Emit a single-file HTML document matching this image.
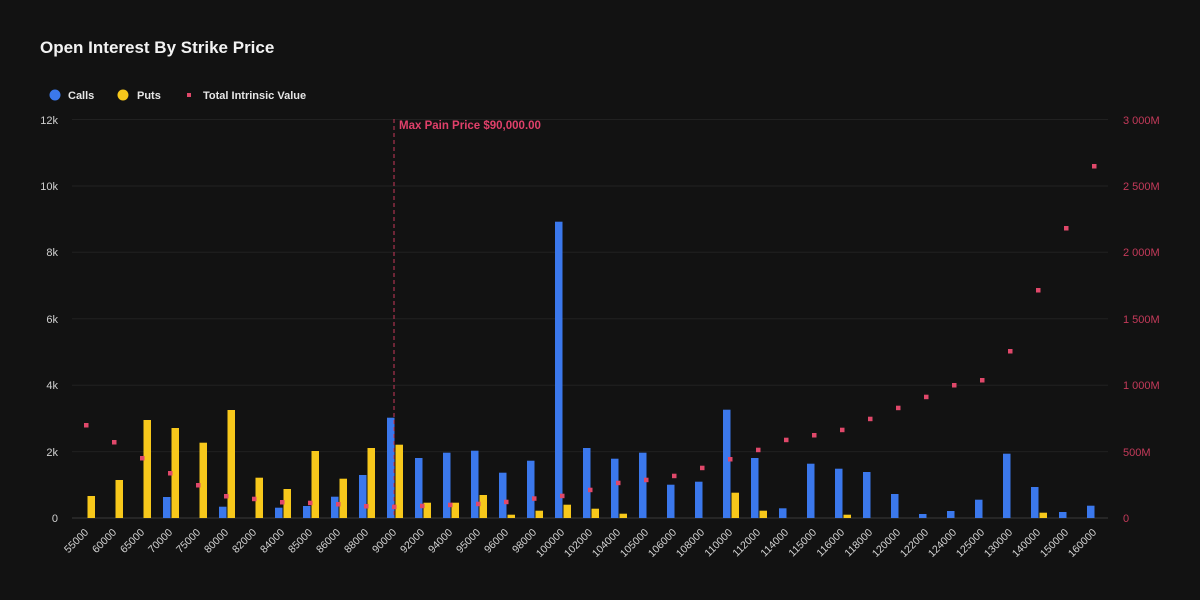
<!DOCTYPE html>
<html>
<head>
<meta charset="utf-8">
<style>
html,body{margin:0;padding:0;background:#121212;}
svg{display:block;}
text{font-family:"Liberation Sans",Arial,sans-serif;}
g.cb rect{width:7.5px;}
g.pb rect{width:7.5px;}
</style>
</head>
<body>
<svg width="1200" height="600" viewBox="0 0 1200 600" xmlns="http://www.w3.org/2000/svg">
<rect width="1200" height="600" fill="#121212"/>
<text x="40" y="53" font-size="17" font-weight="bold" fill="#f2f2f2">Open Interest By Strike Price</text>
<circle cx="55" cy="95" r="5.5" fill="#3b78ec"/>
<text x="68" y="99" font-size="11" font-weight="bold" fill="#e6e6e6">Calls</text>
<circle cx="123" cy="95" r="5.5" fill="#f7c81b"/>
<text x="137" y="99" font-size="11" font-weight="bold" fill="#e6e6e6">Puts</text>
<rect x="187" y="93" width="4" height="4" fill="#e0486a"/>
<text x="203" y="99" font-size="11" font-weight="bold" fill="#e6e6e6">Total Intrinsic Value</text>
<g stroke="#212121" stroke-width="1">
<line x1="72" y1="119.5" x2="1108" y2="119.5"/>
<line x1="72" y1="186" x2="1108" y2="186"/>
<line x1="72" y1="252.3" x2="1108" y2="252.3"/>
<line x1="72" y1="318.7" x2="1108" y2="318.7"/>
<line x1="72" y1="385.2" x2="1108" y2="385.2"/>
<line x1="72" y1="451.6" x2="1108" y2="451.6"/>
</g>
<line x1="72" y1="518" x2="1108" y2="518" stroke="#3a3a3a" stroke-width="1"/>
<g font-size="11" fill="#d0d0d0" text-anchor="end">
<text x="58" y="124">12k</text>
<text x="58" y="190">10k</text>
<text x="58" y="256">8k</text>
<text x="58" y="323">6k</text>
<text x="58" y="389">4k</text>
<text x="58" y="456">2k</text>
<text x="58" y="522">0</text>
</g>
<g font-size="11" fill="#c43a5a">
<text x="1123" y="124">3 000M</text>
<text x="1123" y="190">2 500M</text>
<text x="1123" y="256">2 000M</text>
<text x="1123" y="323">1 500M</text>
<text x="1123" y="389">1 000M</text>
<text x="1123" y="456">500M</text>
<text x="1123" y="522">0</text>
</g>
<g class="cb" fill="#3b78ec">
<rect x="163" y="497" width="7" height="21"/>
<rect x="219" y="506.7" width="7" height="11.3"/>
<rect x="275" y="507.7" width="7" height="10.3"/>
<rect x="303" y="506" width="7" height="12"/>
<rect x="331" y="496.7" width="7" height="21.3"/>
<rect x="359" y="475" width="7" height="43"/>
<rect x="387" y="417.7" width="7" height="100.3"/>
<rect x="415" y="458" width="7" height="60"/>
<rect x="443" y="452.7" width="7" height="65.3"/>
<rect x="471" y="450.7" width="7" height="67.3"/>
<rect x="499" y="472.7" width="7" height="45.3"/>
<rect x="527" y="460.7" width="7" height="57.3"/>
<rect x="555" y="221.7" width="7" height="296.3"/>
<rect x="583" y="448" width="7" height="70"/>
<rect x="611" y="458.7" width="7" height="59.3"/>
<rect x="639" y="452.7" width="7" height="65.3"/>
<rect x="667" y="484.7" width="7" height="33.3"/>
<rect x="695" y="481.7" width="7" height="36.3"/>
<rect x="723" y="409.7" width="7" height="108.3"/>
<rect x="751" y="458" width="7" height="60"/>
<rect x="779" y="508.3" width="7" height="9.7"/>
<rect x="807" y="463.7" width="7" height="54.3"/>
<rect x="835" y="468.7" width="7" height="49.3"/>
<rect x="863" y="472" width="7" height="46"/>
<rect x="891" y="494" width="7" height="24"/>
<rect x="919" y="514" width="7" height="4"/>
<rect x="947" y="511" width="7" height="7"/>
<rect x="975" y="499.7" width="7" height="18.3"/>
<rect x="1003" y="453.7" width="7" height="64.3"/>
<rect x="1031" y="487" width="7" height="31"/>
<rect x="1059" y="512" width="7" height="6"/>
<rect x="1087" y="505.7" width="7" height="12.3"/>
</g>
<g class="pb" fill="#f7c81b" transform="translate(-0.5,0)">
<rect x="88" y="496" width="7" height="22"/>
<rect x="116" y="480" width="7" height="38"/>
<rect x="144" y="420" width="7" height="98"/>
<rect x="172" y="428" width="7" height="90"/>
<rect x="200" y="442.7" width="7" height="75.3"/>
<rect x="228" y="410" width="7" height="108"/>
<rect x="256" y="477.7" width="7" height="40.3"/>
<rect x="284" y="489" width="7" height="29"/>
<rect x="312" y="451" width="7" height="67"/>
<rect x="340" y="478.7" width="7" height="39.3"/>
<rect x="368" y="448" width="7" height="70"/>
<rect x="396" y="444.7" width="7" height="73.3"/>
<rect x="424" y="502.7" width="7" height="15.3"/>
<rect x="452" y="502.7" width="7" height="15.3"/>
<rect x="480" y="495" width="7" height="23"/>
<rect x="508" y="514.7" width="7" height="3.3"/>
<rect x="536" y="510.7" width="7" height="7.3"/>
<rect x="564" y="504.7" width="7" height="13.3"/>
<rect x="592" y="508.7" width="7" height="9.3"/>
<rect x="620" y="513.7" width="7" height="4.3"/>
<rect x="732" y="492.7" width="7" height="25.3"/>
<rect x="760" y="510.7" width="7" height="7.3"/>
<rect x="844" y="514.7" width="7" height="3.3"/>
<rect x="1040" y="512.7" width="7" height="5.3"/>
</g>
<line x1="394" y1="119" x2="394" y2="518" stroke="#c8385a" stroke-width="1" stroke-dasharray="4,3"/>
<text x="399" y="129" font-size="11.5" font-weight="bold" fill="#e0406a">Max Pain Price $90,000.00</text>
<g fill="#e0486a">
<rect x="84" y="423" width="4.5" height="4.5"/>
<rect x="112" y="440" width="4.5" height="4.5"/>
<rect x="140" y="456" width="4.5" height="4.5"/>
<rect x="168" y="471" width="4.5" height="4.5"/>
<rect x="196" y="483" width="4.5" height="4.5"/>
<rect x="224" y="494" width="4.5" height="4.5"/>
<rect x="252" y="496.7" width="4.5" height="4.5"/>
<rect x="280" y="500" width="4.5" height="4.5"/>
<rect x="308" y="500.7" width="4.5" height="4.5"/>
<rect x="336" y="502" width="4.5" height="4.5"/>
<rect x="364" y="504" width="4.5" height="4.5"/>
<rect x="392" y="504.7" width="4.5" height="4.5"/>
<rect x="420" y="503.7" width="4.5" height="4.5"/>
<rect x="448" y="502.7" width="4.5" height="4.5"/>
<rect x="476" y="501.7" width="4.5" height="4.5"/>
<rect x="504" y="499.7" width="4.5" height="4.5"/>
<rect x="532" y="496.3" width="4.5" height="4.5"/>
<rect x="560" y="493.7" width="4.5" height="4.5"/>
<rect x="588" y="487.7" width="4.5" height="4.5"/>
<rect x="616" y="480.7" width="4.5" height="4.5"/>
<rect x="644" y="477.7" width="4.5" height="4.5"/>
<rect x="672" y="473.7" width="4.5" height="4.5"/>
<rect x="700" y="465.7" width="4.5" height="4.5"/>
<rect x="728" y="457" width="4.5" height="4.5"/>
<rect x="756" y="447.7" width="4.5" height="4.5"/>
<rect x="784" y="437.7" width="4.5" height="4.5"/>
<rect x="812" y="433" width="4.5" height="4.5"/>
<rect x="840" y="427.7" width="4.5" height="4.5"/>
<rect x="868" y="416.7" width="4.5" height="4.5"/>
<rect x="896" y="405.7" width="4.5" height="4.5"/>
<rect x="924" y="394.7" width="4.5" height="4.5"/>
<rect x="952" y="383" width="4.5" height="4.5"/>
<rect x="980" y="378" width="4.5" height="4.5"/>
<rect x="1008" y="349" width="4.5" height="4.5"/>
<rect x="1036" y="288" width="4.5" height="4.5"/>
<rect x="1064" y="226" width="4.5" height="4.5"/>
<rect x="1092" y="164" width="4.5" height="4.5"/>
</g>
<g font-size="10.5" fill="#d4d4d4" text-anchor="end">
<text transform="translate(89,533) rotate(-45)">55000</text>
<text transform="translate(117,533) rotate(-45)">60000</text>
<text transform="translate(145,533) rotate(-45)">65000</text>
<text transform="translate(173,533) rotate(-45)">70000</text>
<text transform="translate(201,533) rotate(-45)">75000</text>
<text transform="translate(229,533) rotate(-45)">80000</text>
<text transform="translate(257,533) rotate(-45)">82000</text>
<text transform="translate(285,533) rotate(-45)">84000</text>
<text transform="translate(313,533) rotate(-45)">85000</text>
<text transform="translate(341,533) rotate(-45)">86000</text>
<text transform="translate(369,533) rotate(-45)">88000</text>
<text transform="translate(397,533) rotate(-45)">90000</text>
<text transform="translate(425,533) rotate(-45)">92000</text>
<text transform="translate(453,533) rotate(-45)">94000</text>
<text transform="translate(481,533) rotate(-45)">95000</text>
<text transform="translate(509,533) rotate(-45)">96000</text>
<text transform="translate(537,533) rotate(-45)">98000</text>
<text transform="translate(565,533) rotate(-45)">100000</text>
<text transform="translate(593,533) rotate(-45)">102000</text>
<text transform="translate(621,533) rotate(-45)">104000</text>
<text transform="translate(649,533) rotate(-45)">105000</text>
<text transform="translate(677,533) rotate(-45)">106000</text>
<text transform="translate(705,533) rotate(-45)">108000</text>
<text transform="translate(733,533) rotate(-45)">110000</text>
<text transform="translate(761,533) rotate(-45)">112000</text>
<text transform="translate(789,533) rotate(-45)">114000</text>
<text transform="translate(817,533) rotate(-45)">115000</text>
<text transform="translate(845,533) rotate(-45)">116000</text>
<text transform="translate(873,533) rotate(-45)">118000</text>
<text transform="translate(901,533) rotate(-45)">120000</text>
<text transform="translate(929,533) rotate(-45)">122000</text>
<text transform="translate(957,533) rotate(-45)">124000</text>
<text transform="translate(985,533) rotate(-45)">125000</text>
<text transform="translate(1013,533) rotate(-45)">130000</text>
<text transform="translate(1041,533) rotate(-45)">140000</text>
<text transform="translate(1069,533) rotate(-45)">150000</text>
<text transform="translate(1097,533) rotate(-45)">160000</text>
</g>
</svg>
</body>
</html>
